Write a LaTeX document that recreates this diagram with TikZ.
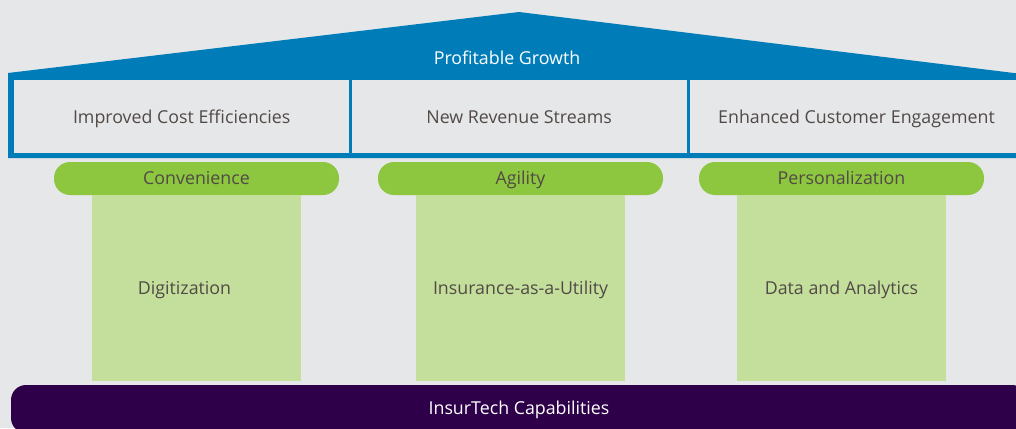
\documentclass[tikz,border=0pt]{standalone}
\usepackage{fontspec}
\setmainfont{Open Sans}
\usetikzlibrary{
  positioning,  % Function "of" (e.g. [below=of x])
}
\definecolor{bggrey}{HTML}{E6E7E9}
\definecolor{roofblue}{HTML}{007DB8}
\definecolor{capgreen}{HTML}{8DC63F}
\definecolor{pillargreen}{HTML}{C4DF9B}
\definecolor{basepurple}{HTML}{2E0049}
\definecolor{ink}{HTML}{514A47}
\def\mycellh{73pt}
\def\mycapw{285pt}
\def\mypillarw{209pt}
\tikzset{
  font=\fontsize{17.8}{21}\selectfont,
  every node/.style={
    text height=1.15em,
    text depth=0em
  },
  my cell/.style={
    fill=bggrey,
    text=ink,
    minimum height=\mycellh,
    text height=1.45em,
    inner sep=0pt,
    anchor=north west
  },
  my cap/.style={
    fill=capgreen,
    text=ink,
    minimum width=\mycapw,
    minimum height=33pt,
    inner sep=0pt,
    rounded corners=16pt
  },
  my pillar/.style={
    fill=pillargreen,
    text=ink,
    minimum width=\mypillarw,
    minimum height=186pt,
    inner sep=0pt
  },
  my base/.style={
    fill=basepurple,
    text=white,
    minimum width=1016pt,
    minimum height=48pt,
    inner sep=0pt,
    rounded corners=15pt
  }
}

\begin{document}
\begin{tikzpicture}[x=1pt,y=-1pt]
\clip (0,0) rectangle (1016,428);
\fill[bggrey] (0,0) rectangle (1016,428);
% Roof and frame
\fill[roofblue] (8,73) -- (519,12) -- (1030,75) -- (1030,158) -- (8,158) -- cycle;
\node[text=white] (roof) at (507,59) {Profitable Growth};
% Beams
\node[my cell,minimum width=335pt] (c1) at (14,80) {Improved Cost Efficiencies};
\node[my cell,minimum width=335pt] (c2) [right=2pt of c1] {New Revenue Streams};
\node[my cell,minimum width=333pt] (c3) [right=3pt of c2] {Enhanced Customer Engagement};
% Pillar 1
\node[my cap]    (cap1) at (196.5,178.5) {Convenience};
\node[my pillar] (p1) [below=0pt of cap1] {};
\node[text=ink]  (t1) at ([xshift=-12pt]p1.center) {Digitization};
% Pillar 2
\node[my cap]    (cap2) at (520.5,178.5) {Agility};
\node[my pillar] (p2) [below=0pt of cap2] {Insurance-as-a-Utility};
% Pillar 3
\node[my cap]    (cap3) at (841.5,178.5) {Personalization};
\node[my pillar] (p3) [below=0pt of cap3] {Data and Analytics};
% Foundation
\node[my base] (base) at (519,409) {InsurTech Capabilities};
\end{tikzpicture}
\end{document}
